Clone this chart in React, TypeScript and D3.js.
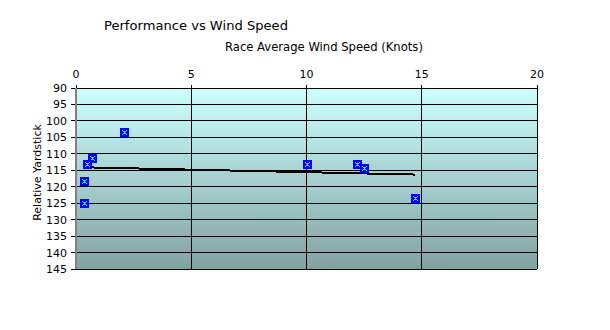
import React from "react";
import * as d3 from "d3";

const windSpeed = [2.1, 0.68, 0.49, 0.36, 0.36, 10.0, 12.2, 12.5, 14.72];
const yardstick = [103.4, 111.3, 113.0, 118.3, 125.0, 113.1, 113.1, 114.4, 123.5];
const trendX = [0.36, 14.72];
const trendY = [114.1, 116.3];
const xTicks = [0, 5, 10, 15, 20];
const yTicks = [90, 95, 100, 105, 110, 115, 120, 125, 130, 135, 140, 145];

const W = 610, H = 330;
const L = 76, R = 537, T = 88, B = 269;
const FONT = "DejaVu Sans, Verdana, sans-serif";

const glyph = [
  "10001",
  "01110",
  "00100",
  "01110",
  "10001",
];

export default function App() {
  const x = d3.scaleLinear().domain([0, 20]).range([L, R]);
  const y = d3.scaleLinear().domain([90, 145]).range([T, B]);
  const line = d3.line<number>().x((d) => x(trendX[d])).y((d) => y(trendY[d]));

  return (
    <svg width={W} height={H} style={{ position: "absolute", left: 0, top: 0, background: "#fff" }}>
      <defs>
        <linearGradient id="bg" x1="0" y1="0" x2="0" y2="1">
          <stop offset="0" stopColor="#ccffff" />
          <stop offset="1" stopColor="#82a2a2" />
        </linearGradient>
      </defs>
      <text x={104} y={30} fontFamily={FONT} fontSize={13.1} fill="#000">Performance vs Wind Speed</text>
      <text x={225} y={51} fontFamily={FONT} fontSize={11.6} fill="#000">Race Average Wind Speed (Knots)</text>
      <text transform={`translate(41,${(T + B) / 2 - 6}) rotate(-90)`} textAnchor="middle" fontFamily={FONT} fontSize={11} fill="#000">Relative Yardstick</text>

      <rect x={L} y={T} width={R - L} height={B - T} fill="url(#bg)" />
      <g shapeRendering="crispEdges">
        {yTicks.map((t) => (
          <line key={"h" + t} x1={L} x2={R} y1={y(t)} y2={y(t)} stroke="#000" strokeWidth={1} />
        ))}
        {xTicks.map((t) => (
          <line key={"v" + t} x1={x(t)} x2={x(t)} y1={T - 3} y2={B} stroke="#000" strokeWidth={1} />
        ))}
        {yTicks.map((t) => (
          <line key={"yt" + t} x1={L - 5} x2={L} y1={y(t)} y2={y(t)} stroke="#000" strokeWidth={1} />
        ))}
        <line x1={L} x2={L} y1={T} y2={B} stroke="#808080" strokeWidth={2} />
      </g>
      {xTicks.map((t) => (
        <text key={"xl" + t} x={x(t)} y={78} textAnchor="middle" fontFamily={FONT} fontSize={11} fill="#000">{t}</text>
      ))}
      {yTicks.map((t) => (
        <text key={"yl" + t} x={67} y={y(t) + 4} textAnchor="end" fontFamily={FONT} fontSize={11} fill="#000">{t}</text>
      ))}
      <path d={line([0, 1]) || ""} fill="none" stroke="#000" strokeWidth={2} shapeRendering="crispEdges" />
      {windSpeed.map((w, i) => {
        const cx = Math.round(x(w));
        const cy = Math.round(y(yardstick[i]));
        return (
          <g key={"m" + i} shapeRendering="crispEdges">
            <rect x={cx - 4} y={cy - 4} width={9} height={9} fill="#0000ff" />
            {glyph.map((row, r) =>
              row.split("").map((c, k) =>
                c === "1" ? <rect key={r + "-" + k} x={cx - 2 + k} y={cy - 2 + r} width={1} height={1} fill="#00ffff" /> : null
              )
            )}
          </g>
        );
      })}
    </svg>
  );
}
